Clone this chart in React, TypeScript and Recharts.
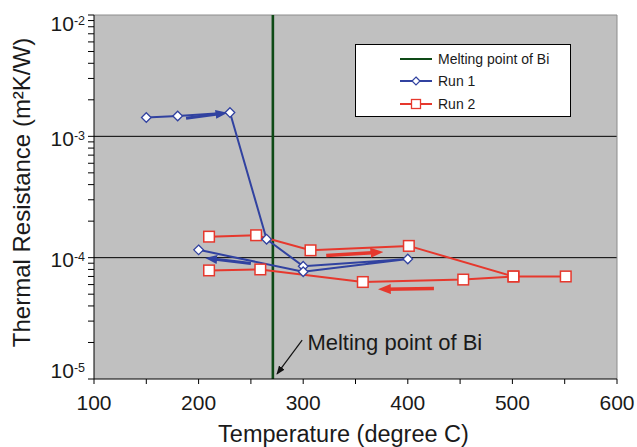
import React from "react";
import { LineChart, Line, XAxis, YAxis, CartesianGrid, ReferenceLine, ReferenceDot, Legend, Label } from "recharts";

// Run 1 (diamonds), in the order the points were measured
const run1Temp = [150, 180, 230, 265, 300, 400, 300, 200];
const run1Res = [1.43e-3, 1.47e-3, 1.57e-3, 1.42e-4, 8.5e-5, 9.75e-5, 7.65e-5, 1.16e-4];

// Run 2 (squares), heating then cooling
const run2Temp = [210, 255, 307, 401, 501, 551, 501, 453, 357, 259, 210];
const run2Res = [1.49e-4, 1.53e-4, 1.15e-4, 1.25e-4, 7.0e-5, 7.0e-5, 7.0e-5, 6.6e-5, 6.3e-5, 8.0e-5, 7.85e-5];

const meltingPoint = 271;

// direction arrows drawn on the plot (temperature, resistance)
const blueArrowTemp = [[188, 222], [250, 212]];
const blueArrowRes = [[1.41e-3, 1.54e-3], [8.97e-5, 9.8e-5]];
const redArrowTemp = [[322, 370], [425, 378]];
const redArrowRes = [[1.04e-4, 1.105e-4], [5.58e-5, 5.5e-5]];
const meltArrowTemp = [299, 275];
const meltArrowRes = [2.09e-5, 1.1e-5];
const meltLabelTemp = 304;
const meltLabelRes = 2.0e-5;

const xTicks = [100, 150, 200, 250, 300, 350, 400, 450, 500, 550, 600];
const yDecades = [1e-5, 1e-4, 1e-3, 1e-2];
const yMinor = [2, 3, 4, 5, 6, 7, 8, 9];
const yTicks = yDecades.flatMap((d, i) => (i < yDecades.length - 1 ? [d, ...yMinor.map((m) => m * d)] : [d]));

const legendNames = ["Melting point of Bi", "Run 1", "Run 2"];

const BLUE = "#3142a0";
const RED = "#e6382d";
const GREEN = "#0e4a16";
const font = "'Liberation Sans', Arial, Helvetica, sans-serif";

const toPoints = (xs: number[], ys: number[]) => xs.map((x, i) => ({ x, y: ys[i] }));

const run1 = toPoints(run1Temp, run1Res);
const run2 = toPoints(run2Temp, run2Res);

const Diamond = (props: any) => {
  const { cx, cy, index } = props;
  if (cx == null || cy == null) return <g key={`d${index}`} />;
  const s = 4.8;
  return (
    <path
      key={`d${index}`}
      d={`M${cx},${cy - s} L${cx + s},${cy} L${cx},${cy + s} L${cx - s},${cy} Z`}
      fill="#fff"
      stroke={BLUE}
      strokeWidth={1.3}
    />
  );
};

const Square = (props: any) => {
  const { cx, cy, index } = props;
  if (cx == null || cy == null) return <g key={`s${index}`} />;
  const s = 5.3;
  return <rect key={`s${index}`} x={cx - s} y={cy - s} width={2 * s} height={2 * s} fill="#fff" stroke={RED} strokeWidth={1.5} />;
};

const YTick = (props: any) => {
  const { x, y, payload } = props;
  const exp = Math.log10(payload.value);
  if (Math.abs(exp - Math.round(exp)) > 1e-6) return <g />;
  const base = Math.min(Math.max(y + 9.5, 31), 378);
  return (
    <text x={x} y={base} textAnchor="end" fill="#1a1a1a" fontFamily={font}>
      <tspan fontSize={21}>10</tspan>
      <tspan fontSize={12.5} dy={-6}>
        {Math.round(exp)}
      </tspan>
    </text>
  );
};

const XTick = (props: any) => {
  const { x, y, payload } = props;
  if (payload.value % 100 !== 0) return <g />;
  return (
    <text x={x} y={y} dy="0.71em" textAnchor="middle" fontSize={21} fill="#1a1a1a" fontFamily={font}>
      {payload.value}
    </text>
  );
};

const LegendBox = () => (
  <div style={{ position: "relative", width: 214, height: 71, border: "1px solid #000", background: "#fff", fontFamily: font, fontSize: 14, color: "#1a1a1a" }}>
    {legendNames.map((name, i) => (
      <div key={name} style={{ position: "absolute", left: 44, top: 2.5 + i * 22.5, height: 22, display: "flex", alignItems: "center" }}>
        <svg width={32} height={14}>
          <line x1={0} y1={7} x2={32} y2={7} stroke={[GREEN, BLUE, RED][i]} strokeWidth={2} />
          {i === 1 && <path d="M16,3 L20,7 L16,11 L12,7 Z" fill="#fff" stroke={BLUE} strokeWidth={1.2} />}
          {i === 2 && <rect x={11.5} y={2.5} width={9} height={9} fill="#fff" stroke={RED} strokeWidth={1.3} />}
        </svg>
        <span style={{ marginLeft: 6, whiteSpace: "nowrap" }}>{name}</span>
      </div>
    ))}
  </div>
);

const App: React.FC = () => {
  return (
    <div style={{ position: "absolute", left: 0, top: 0, background: "#fff" }}>
      <LineChart width={637} height={447} margin={{ top: 15, right: 20, bottom: 0, left: 0 }}>
        <defs>
          <marker id="headBlue" markerWidth={12} markerHeight={9} refX={6} refY={4.5} orient="auto" markerUnits="userSpaceOnUse">
            <path d="M0,0 L12,4.5 L0,9 Z" fill={BLUE} />
          </marker>
          <marker id="headRed" markerWidth={13} markerHeight={10} refX={6} refY={5} orient="auto" markerUnits="userSpaceOnUse">
            <path d="M0,0 L13,5 L0,10 Z" fill={RED} />
          </marker>
          <marker id="headBlack" markerWidth={9} markerHeight={7} refX={8} refY={3.5} orient="auto" markerUnits="userSpaceOnUse">
            <path d="M0,0 L9,3.5 L0,7 Z" fill="#111" />
          </marker>
        </defs>
        <CartesianGrid vertical={false} horizontalValues={[1e-4, 1e-3]} stroke="#000" strokeWidth={1} fill="#c0c0c0" fillOpacity={1} />
        <XAxis
          dataKey="x"
          type="number"
          domain={[100, 600]}
          ticks={xTicks}
          allowDataOverflow
          height={68}
          tickSize={5}
          tickMargin={11}
          tick={XTick}
          axisLine={{ stroke: "#000" }}
          tickLine={{ stroke: "#000" }}
        >
          <Label value="Temperature (degree C)" position="insideBottom" offset={5.5} dx={-12} fontSize={23.5} fill="#1a1a1a" fontFamily={font} />
        </XAxis>
        <YAxis
          dataKey="y"
          type="number"
          scale="log"
          domain={[1e-5, 1e-2]}
          ticks={yTicks}
          allowDataOverflow
          interval={0}
          width={94}
          tickSize={6}
          tickMargin={3}
          tick={YTick}
          axisLine={{ stroke: "#000" }}
          tickLine={{ stroke: "#000" }}
        >
          <Label
            content={() => (
              <text transform="rotate(-90)" x={-192.5} y={29.5} textAnchor="middle" fontSize={24} fill="#1a1a1a" fontFamily={font}>
                Thermal Resistance (m²K/W)
              </text>
            )}
          />
        </YAxis>
        <ReferenceLine y={1e-2} stroke="#8c8c8c" strokeWidth={1} />
        <ReferenceLine x={600} stroke="#8c8c8c" strokeWidth={1} />
        <ReferenceLine x={meltingPoint} stroke={GREEN} strokeWidth={2.6} />
        <Line data={run2} dataKey="y" name="Run 2" stroke={RED} strokeWidth={2} dot={Square} isAnimationActive={false} />
        <Line data={run1} dataKey="y" name="Run 1" stroke={BLUE} strokeWidth={2} dot={Diamond} isAnimationActive={false} />
        {blueArrowTemp.map((xs, i) => (
          <Line key={`ba${i}`} data={toPoints(xs, blueArrowRes[i])} dataKey="y" stroke={BLUE} strokeWidth={3} dot={false} markerEnd="url(#headBlue)" isAnimationActive={false} />
        ))}
        {redArrowTemp.map((xs, i) => (
          <Line key={`ra${i}`} data={toPoints(xs, redArrowRes[i])} dataKey="y" stroke={RED} strokeWidth={3.5} dot={false} markerEnd="url(#headRed)" isAnimationActive={false} />
        ))}
        <Line data={toPoints(meltArrowTemp, meltArrowRes)} dataKey="y" stroke="#111" strokeWidth={1.2} dot={false} markerEnd="url(#headBlack)" isAnimationActive={false} />
        <ReferenceDot
          x={meltLabelTemp}
          y={meltLabelRes}
          r={0}
          fill="none"
          stroke="none"
          label={{ value: "Melting point of Bi", position: "right", offset: 0, fontSize: 22, fill: "#1a1a1a", fontFamily: font }}
        />
        <Legend
          verticalAlign="middle"
          align="center"
          layout="horizontal"
          content={LegendBox}
          wrapperStyle={{ left: 355, top: 44, width: 216, height: 73 }}
        />
      </LineChart>
    </div>
  );
};

export default App;
